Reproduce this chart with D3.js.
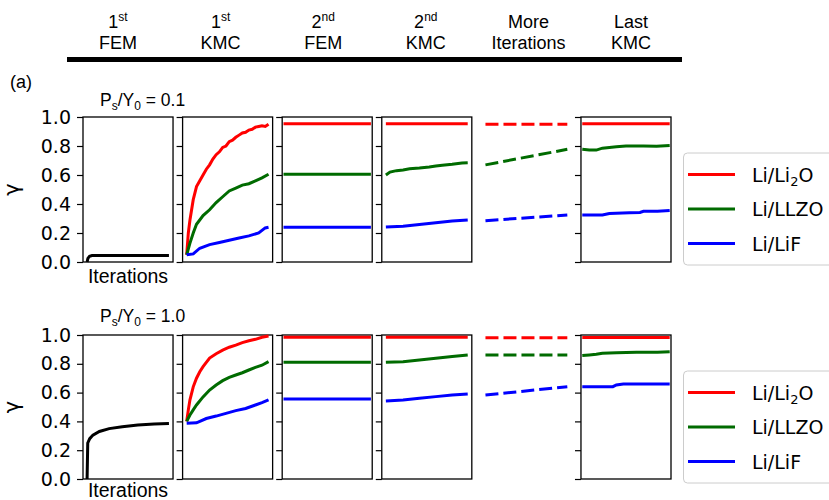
<!DOCTYPE html>
<html>
<head>
<meta charset="utf-8">
<script src="https://cdn.jsdelivr.net/npm/d3@7"></script>
<style>
body { margin: 0; background: #fff; }
text { fill: #000; }
</style>
</head>
<body>
<svg id="chart" width="829" height="500"></svg>
<script>
//////////////////////////////////////////////////////////////////////////////
// Data (x is the fraction of the stage, y is gamma)

var stageNum  = ["1", "1", "2", "2", "More", "Last"];
var stageSup  = ["st", "st", "nd", "nd", "", ""];
var stageName = ["FEM", "KMC", "FEM", "KMC", "Iterations", "KMC"];

var materials = ["Li/Li2O", "Li/LLZO", "Li/LiF"];
var matColors = ["#ff0000", "#006b00", "#0000ff"];
var ratios    = ["0.1", "1.0"];
var yTicks    = [0, 0.2, 0.4, 0.6, 0.8, 1.0];

// 1st FEM (black curve)
var femLow  = [[0, 0], [0.01, 0.025], [0.03, 0.04], [0.06, 0.045], [1, 0.045]];
var femHigh = [[0, 0], [0.008, 0.25], [0.032, 0.28], [0.071, 0.305], [0.15, 0.33],
               [0.27, 0.35], [0.43, 0.363], [0.62, 0.375], [0.82, 0.382], [1, 0.386]];

// Ps/Y0 = 0.1, one entry per stage after the first FEM
var li2oLow = [
  [[0, 0.05], [0.02, 0.2], [0.04, 0.29], [0.08, 0.43], [0.12, 0.52], [0.16, 0.56], [0.2, 0.6],
   [0.24, 0.64], [0.28, 0.67], [0.32, 0.71], [0.36, 0.74], [0.4, 0.76], [0.44, 0.79], [0.48, 0.8],
   [0.52, 0.83], [0.56, 0.84], [0.6, 0.86], [0.64, 0.875], [0.68, 0.89], [0.72, 0.895], [0.76, 0.91],
   [0.8, 0.915], [0.84, 0.93], [0.88, 0.935], [0.92, 0.94], [0.96, 0.935], [1, 0.95]],
  [[0, 0.953], [1, 0.953]],
  [[0, 0.953], [1, 0.953]],
  [[0, 0.95], [1, 0.95]],
  [[0, 0.953], [1, 0.953]]
];
var llzoLow = [
  [[0, 0.05], [0.04, 0.13], [0.08, 0.2], [0.12, 0.26], [0.2, 0.32], [0.28, 0.36], [0.36, 0.41],
   [0.44, 0.45], [0.52, 0.49], [0.6, 0.51], [0.68, 0.53], [0.76, 0.54], [0.84, 0.56], [0.92, 0.58], [1, 0.605]],
  [[0, 0.605], [1, 0.605]],
  [[0, 0.6], [0.05, 0.62], [0.13, 0.63], [0.21, 0.635], [0.29, 0.643], [0.41, 0.648], [0.53, 0.655],
   [0.61, 0.662], [0.69, 0.667], [0.81, 0.674], [0.93, 0.683], [1, 0.685]],
  [[0, 0.67], [1, 0.777]],
  [[0, 0.777], [0.08, 0.772], [0.16, 0.772], [0.23, 0.785], [0.31, 0.79], [0.39, 0.795],
   [0.5, 0.8], [0.7, 0.8], [0.85, 0.798], [1, 0.803]]
];
var lifLow = [
  [[0, 0.05], [0.08, 0.056], [0.16, 0.095], [0.28, 0.12], [0.4, 0.135], [0.52, 0.15], [0.64, 0.165],
   [0.76, 0.18], [0.88, 0.2], [0.96, 0.235], [1, 0.24]],
  [[0, 0.24], [1, 0.24]],
  [[0, 0.242], [0.21, 0.247], [0.41, 0.259], [0.61, 0.27], [0.81, 0.282], [1, 0.29]],
  [[0, 0.285], [1, 0.324]],
  [[0, 0.324], [0.23, 0.324], [0.31, 0.335], [0.54, 0.34], [0.66, 0.342], [0.7, 0.35], [0.86, 0.35], [1, 0.356]]
];

// Ps/Y0 = 1.0
var li2oHigh = [
  [[0, 0.4], [0.02, 0.48], [0.04, 0.55], [0.08, 0.64], [0.12, 0.7], [0.16, 0.745], [0.2, 0.78],
   [0.28, 0.84], [0.36, 0.87], [0.44, 0.895], [0.52, 0.915], [0.6, 0.93], [0.68, 0.947],
   [0.76, 0.96], [0.84, 0.97], [0.92, 0.984], [1, 0.993]],
  [[0, 0.985], [1, 0.985]],
  [[0, 0.985], [1, 0.985]],
  [[0, 0.981], [1, 0.981]],
  [[0, 0.983], [1, 0.983]]
];
var llzoHigh = [
  [[0, 0.4], [0.04, 0.444], [0.08, 0.48], [0.12, 0.514], [0.2, 0.57], [0.28, 0.618], [0.36, 0.653],
   [0.44, 0.683], [0.52, 0.706], [0.6, 0.722], [0.68, 0.738], [0.76, 0.757], [0.84, 0.775], [0.92, 0.79], [1, 0.815]],
  [[0, 0.81], [1, 0.81]],
  [[0, 0.81], [0.21, 0.815], [0.41, 0.826], [0.61, 0.838], [0.81, 0.85], [1, 0.861]],
  [[0, 0.861], [1, 0.861]],
  [[0, 0.857], [0.08, 0.861], [0.16, 0.866], [0.23, 0.873], [0.39, 0.877], [0.62, 0.88], [0.86, 0.88], [1, 0.884]]
];
var lifHigh = [
  [[0, 0.387], [0.12, 0.39], [0.24, 0.42], [0.36, 0.437], [0.48, 0.456], [0.6, 0.475], [0.72, 0.49],
   [0.84, 0.514], [0.92, 0.53], [1, 0.549]],
  [[0, 0.556], [1, 0.556]],
  [[0, 0.542], [0.21, 0.549], [0.41, 0.56], [0.61, 0.572], [0.81, 0.583], [1, 0.59]],
  [[0, 0.583], [1, 0.641]],
  [[0, 0.641], [0.35, 0.641], [0.39, 0.653], [0.47, 0.66], [1, 0.66]]
];

//////////////////////////////////////////////////////////////////////////////
// Layout

var svg = d3.select("#chart");
var sans = "'Liberation Sans', Arial, sans-serif";
var dejavu = "'DejaVu Sans', sans-serif";

var rowTop    = [117, 335];
var rowBottom = [262, 479];
var xPad   = [0.05, 0.05, 0.015, 0.05, 0.05, 0.015];   // x margin per stage panel
var framed = [true, true, true, true, false, true];

var rows = [
  { fem: femLow,  series: [li2oLow,  llzoLow,  lifLow]  },
  { fem: femHigh, series: [li2oHigh, llzoHigh, lifHigh] }
];

var panelX = d3.scaleBand().domain(d3.range(6)).range([83, 671]).paddingInner(0.096);
var headX  = d3.scalePoint().domain(d3.range(6)).range([118, 631]);

// text with digits after a letter drawn as subscript
function subText(sel, str, size, shift) {
  var parts = str.match(/[A-Za-z\/ .=]+|\d+/g);
  var prevSub = false;
  parts.forEach(function(p, k) {
    var isSub = /^\d+$/.test(p) && k > 0 && /[A-Za-z]$/.test(parts[k - 1]);
    var t = sel.append("tspan").text(p);
    if (isSub) t.attr("font-size", size).attr("dy", shift);
    else if (prevSub) t.attr("dy", -shift);
    prevSub = isSub;
  });
}

//////////////////////////////////////////////////////////////////////////////
// Header

var head = svg.append("g").attr("font-family", sans).attr("font-size", 18).attr("text-anchor", "middle");

stageName.forEach(function(name, i) {
  var t1 = head.append("text").attr("x", headX(i)).attr("y", 28);
  t1.append("tspan").text(stageNum[i]);
  if (stageSup[i]) t1.append("tspan").attr("font-size", 12).attr("dy", -7).text(stageSup[i]);
  head.append("text").attr("x", headX(i)).attr("y", 49).text(name);
});

svg.append("line")
  .attr("x1", 67).attr("x2", 682).attr("y1", 59.5).attr("y2", 59.5)
  .attr("stroke", "#000").attr("stroke-width", 5);

svg.append("text").attr("x", 10).attr("y", 88)
  .attr("font-family", sans).attr("font-size", 18).text("(a)");

//////////////////////////////////////////////////////////////////////////////
// Rows of panels

rows.forEach(function(row, r) {
  var y = d3.scaleLinear().domain([0, 1]).range([rowBottom[r], rowTop[r]]);

  // Ps/Y0 label
  var lab = svg.append("text").attr("x", 100).attr("y", r === 0 ? 106 : 322)
    .attr("font-family", sans).attr("font-size", 17.5);
  lab.append("tspan").text("P");
  lab.append("tspan").attr("font-size", 12).attr("dy", 4).text("s");
  lab.append("tspan").attr("dy", -4).text("/Y");
  lab.append("tspan").attr("font-size", 12).attr("dy", 4).text("0");
  lab.append("tspan").attr("dy", -4).text(" = " + ratios[r]);

  // gamma label
  svg.append("text")
    .attr("transform", "translate(19," + ((rowTop[r] + rowBottom[r]) / 2) + ") rotate(-90)")
    .attr("text-anchor", "middle").attr("font-family", dejavu).attr("font-size", 21)
    .text("\u03b3");

  d3.range(6).forEach(function(i) {
    var x0 = panelX(i), w = panelX.bandwidth();
    var x = d3.scaleLinear().domain([-xPad[i], 1 + xPad[i]]).range([x0, x0 + w]);
    var line = d3.line().x(function(d) { return x(d[0]); }).y(function(d) { return y(d[1]); });
    var g = svg.append("g");

    if (framed[i]) {
      g.append("rect")
        .attr("x", x0).attr("y", rowTop[r]).attr("width", w).attr("height", rowBottom[r] - rowTop[r])
        .attr("fill", "none").attr("stroke", "#000").attr("stroke-width", 1.3);

      var ax = g.append("g").attr("transform", "translate(" + x0 + ",0)")
        .call(d3.axisLeft(y).tickValues(yTicks).tickSize(6).tickPadding(6)
          .tickFormat(i === 0 ? d3.format(".1f") : ""));
      ax.select(".domain").remove();
      ax.selectAll(".tick line").attr("stroke", "#000").attr("stroke-width", 1.2);
      ax.selectAll(".tick text").attr("font-family", dejavu).attr("font-size", 19).attr("fill", "#000");
    }

    if (i === 0) {
      g.append("path").datum(row.fem).attr("d", line)
        .attr("fill", "none").attr("stroke", "#000").attr("stroke-width", 3);
      g.append("text").attr("x", x0 + w / 2).attr("y", r === 0 ? 283 : 497)
        .attr("text-anchor", "middle").attr("font-family", sans).attr("font-size", 19.5)
        .text("Iterations");
    } else {
      row.series.forEach(function(s, m) {
        g.append("path").datum(s[i - 1]).attr("d", line)
          .attr("fill", "none").attr("stroke", matColors[m]).attr("stroke-width", 3)
          .attr("stroke-dasharray", i === 4 ? "13,5" : null);
      });
    }
  });

  // legend
  var lgTop = rowTop[r] + 36;
  var lg = svg.append("g");
  lg.append("rect").attr("x", 683.5).attr("y", lgTop).attr("width", 170).attr("height", 112)
    .attr("rx", 4).attr("fill", "#fff").attr("stroke", "#ccc").attr("stroke-width", 1);
  materials.forEach(function(name, m) {
    var ly = lgTop + 21.5 + m * 34.5;
    lg.append("line").attr("x1", 688).attr("x2", 735).attr("y1", ly).attr("y2", ly)
      .attr("stroke", matColors[m]).attr("stroke-width", 3);
    var t = lg.append("text").attr("x", 752).attr("y", ly + 7)
      .attr("font-family", dejavu).attr("font-size", 19);
    subText(t, name, 13, 4);
  });
});
</script>
</body>
</html>
